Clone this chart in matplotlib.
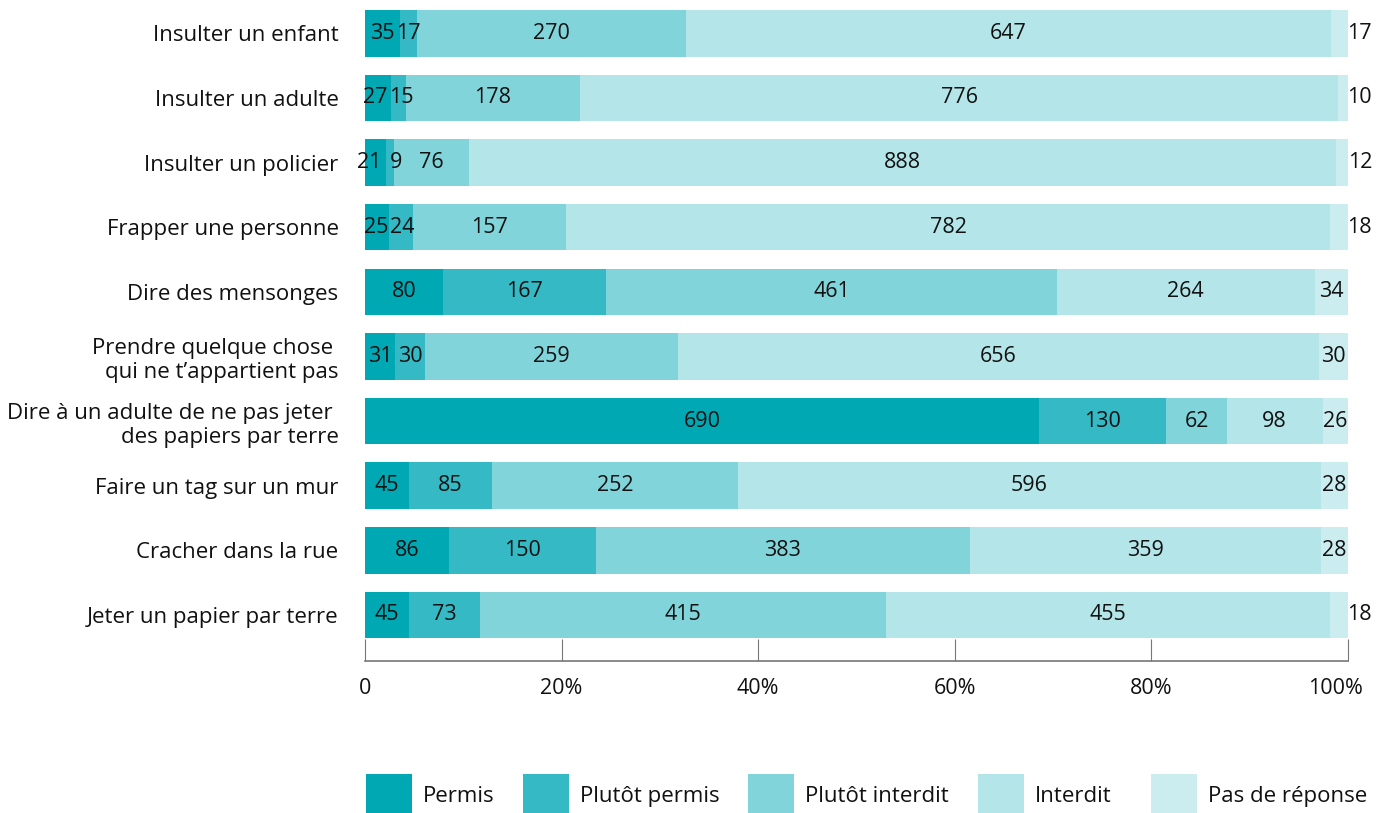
import numpy as np
import matplotlib
matplotlib.use("Agg")
from matplotlib import pyplot as plt
from matplotlib.patches import Rectangle
from matplotlib.transforms import ScaledTranslation

plt.rcParams['font.family'] = ['Open Sans', 'DejaVu Sans']

categories = [
    'Insulter un enfant',
    'Insulter un adulte',
    'Insulter un policier',
    'Frapper une personne',
    'Dire des mensonges',
    'Prendre quelque chose \nqui ne t\u2019appartient pas',
    'Dire \u00e0 un adulte de ne pas jeter \ndes papiers par terre',
    'Faire un tag sur un mur',
    'Cracher dans la rue',
    'Jeter un papier par terre',
]
series = ['Permis', 'Plut\u00f4t permis', 'Plut\u00f4t interdit', 'Interdit', 'Pas de r\u00e9ponse']
permis = [35, 27, 21, 25, 80, 31, 690, 45, 86, 45]
plutot_permis = [17, 15, 9, 24, 167, 30, 130, 85, 150, 73]
plutot_interdit = [270, 178, 76, 157, 461, 259, 62, 252, 383, 415]
interdit = [647, 776, 888, 782, 264, 656, 98, 596, 359, 455]
sans_reponse = [17, 10, 12, 18, 34, 30, 26, 28, 28, 18]
colors = ['#00a8b4', '#35b9c4', '#81d4da', '#b4e5e9', '#cbedf0']
xticklabels = ['0', '20%', '40%', '60%', '80%', '100%']

counts = np.array([permis, plutot_permis, plutot_interdit, interdit, sans_reponse], dtype=float)
shares = counts / counts.sum(axis=0)

fig = plt.figure(figsize=(13.81, 8.13), dpi=100)
ax = fig.add_axes([0.2643, 0.187, 0.7118, 0.8007])

y = np.arange(len(categories))
starts = np.vstack([np.zeros(len(categories)), np.cumsum(shares, axis=0)[:-1]])

for k, name in enumerate(series):
    ax.barh(y, shares[k], left=starts[k], height=0.72, color=colors[k], label=name)

# value labels: centred in each segment, nudged apart when segments are thin
min_gap = 0.027
for i in range(len(categories)):
    xs = list(starts[:, i] + shares[:, i] / 2)
    if shares[-1, i] < 0.022:
        xs[-1] = 1.012
    for k in range(len(xs) - 1):
        d = xs[k + 1] - xs[k]
        if d < min_gap:
            xs[k] -= (min_gap - d) / 2
            xs[k + 1] += (min_gap - d) / 2
    for k in range(len(series)):
        ax.text(xs[k], y[i], str(int(counts[k, i])), ha='center', va='center',
                fontsize=15.5, color='#111111')

ax.set_xlim(0, 1)
ax.set_ylim(9.713, -0.36)
ax.set_yticks(y)
ax.set_yticklabels(categories, fontsize=16, color='#111111', linespacing=1.2)
ax.tick_params(axis='y', length=0, pad=19)
ax.set_xticks(np.linspace(0, 1, 6))
ax.set_xticklabels(xticklabels, fontsize=15.5, color='#111111')
ax.tick_params(axis='x', direction='in', length=16, width=0.8, color='#777777', pad=12)
last = ax.xaxis.get_major_ticks()[-1].label1
last.set_transform(last.get_transform() + ScaledTranslation(-9 / 72, 0, fig.dpi_scale_trans))
for s in ['top', 'right', 'left']:
    ax.spines[s].set_visible(False)
ax.spines['bottom'].set_color('#777777')
ax.spines['bottom'].set_linewidth(1.2)

# legend drawn by hand: swatches run off the bottom edge of the figure
legend_x = [0.265, 0.3787, 0.5416, 0.7082, 0.8335]
for lx, c, name in zip(legend_x, colors, series):
    fig.patches.append(Rectangle((lx, -0.01), 0.0333, 0.058, transform=fig.transFigure,
                                 facecolor=c, edgecolor='none'))
    fig.text(lx + 0.0413, 0.02, name, fontsize=16, color='#111111', va='center', ha='left')

fig.savefig('out.png', dpi=100)
